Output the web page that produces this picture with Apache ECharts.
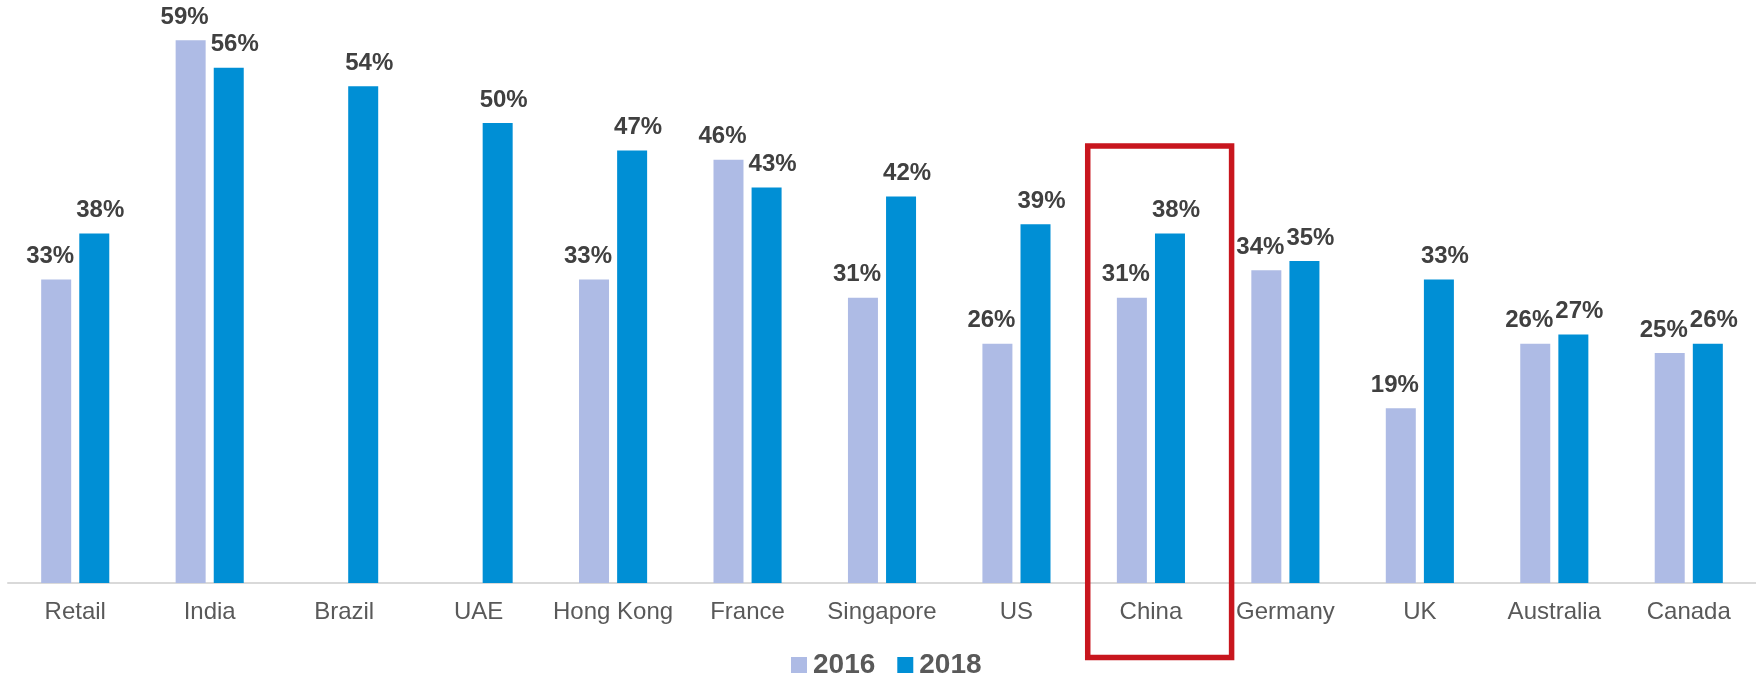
<!DOCTYPE html>
<html>
<head>
<meta charset="utf-8">
<style>
  html, body { margin: 0; padding: 0; background: #ffffff; }
  #chart { width: 1756px; height: 676px; }
</style>
<script src="https://cdn.jsdelivr.net/npm/echarts@6/dist/echarts.min.js"></script>
</head>
<body>
<div id="chart"></div>
<script>
// Share of respondents by market, 2016 vs 2018 (percent)
const categories = ['Retail', 'India', 'Brazil', 'UAE', 'Hong Kong', 'France', 'Singapore', 'US', 'China', 'Germany', 'UK', 'Australia', 'Canada'];
const values2016 = [33, 59, null, null, 33, 46, 31, 26, 31, 34, 19, 26, 25];
const values2018 = [38, 56, 54, 50, 47, 43, 42, 39, 38, 35, 33, 27, 26];
const seriesNames = ['2016', '2018'];
const highlighted = 'China';

const FONT = '"Liberation Sans", Arial, sans-serif';

const chart = echarts.init(document.getElementById('chart'), null, { renderer: 'canvas' });

function labelStyle(dx) {
  return {
    show: true,
    position: 'top',
    distance: 11,
    offset: [dx, 0],
    formatter: '{c}%',
    fontFamily: FONT,
    fontWeight: 'bold',
    fontSize: 24,
    color: '#404040'
  };
}

chart.setOption({
  animation: false,
  backgroundColor: '#ffffff',
  grid: { left: 8, right: 0, top: 31, bottom: 93, containLabel: false },
  legend: {
    data: seriesNames,
    left: 791,
    top: 651,
    padding: 0,
    itemWidth: 16,
    itemHeight: 16,
    itemGap: 22,
    icon: 'rect',
    textStyle: { fontFamily: FONT, fontWeight: 'bold', fontSize: 28, color: '#595959', padding: [0, 0, 0, 1] }
  },
  xAxis: {
    type: 'category',
    data: categories,
    axisTick: { show: false },
    axisLine: { lineStyle: { color: '#d9d9d9', width: 2 } },
    axisLabel: { fontFamily: FONT, fontSize: 24, color: '#595959', margin: 17, interval: 0 }
  },
  yAxis: {
    type: 'value',
    min: 0,
    max: 60,
    show: false,
    splitLine: { show: false }
  },
  series: [
    {
      name: seriesNames[0],
      type: 'bar',
      data: values2016,
      barWidth: 30,
      barGap: '27%',
      itemStyle: { color: '#aebbe5' },
      label: labelStyle(-6)
    },
    {
      name: seriesNames[1],
      type: 'bar',
      data: values2018,
      barWidth: 30,
      itemStyle: { color: '#008fd5' },
      label: labelStyle(6)
    }
  ]
});

// Outline around the highlighted market, placed from the axis scales
function drawHighlight() {
  const cx = chart.convertToPixel({ xAxisIndex: 0 }, highlighted);
  const y0 = chart.convertToPixel({ yAxisIndex: 0 }, 0);
  const yTop = chart.convertToPixel({ yAxisIndex: 0 }, 47.5);
  const cw = 1748 / categories.length;
  const x1 = cx - 0.47 * cw;
  const x2 = cx + 0.60 * cw;
  const y2 = y0 + 74.5;
  chart.setOption({
    graphic: [{
      type: 'rect',
      shape: { x: x1, y: yTop, width: x2 - x1, height: y2 - yTop },
      style: { fill: 'none', stroke: '#c8161e', lineWidth: 5.5 },
      z: 100
    }]
  });
}
drawHighlight();
</script>
</body>
</html>
